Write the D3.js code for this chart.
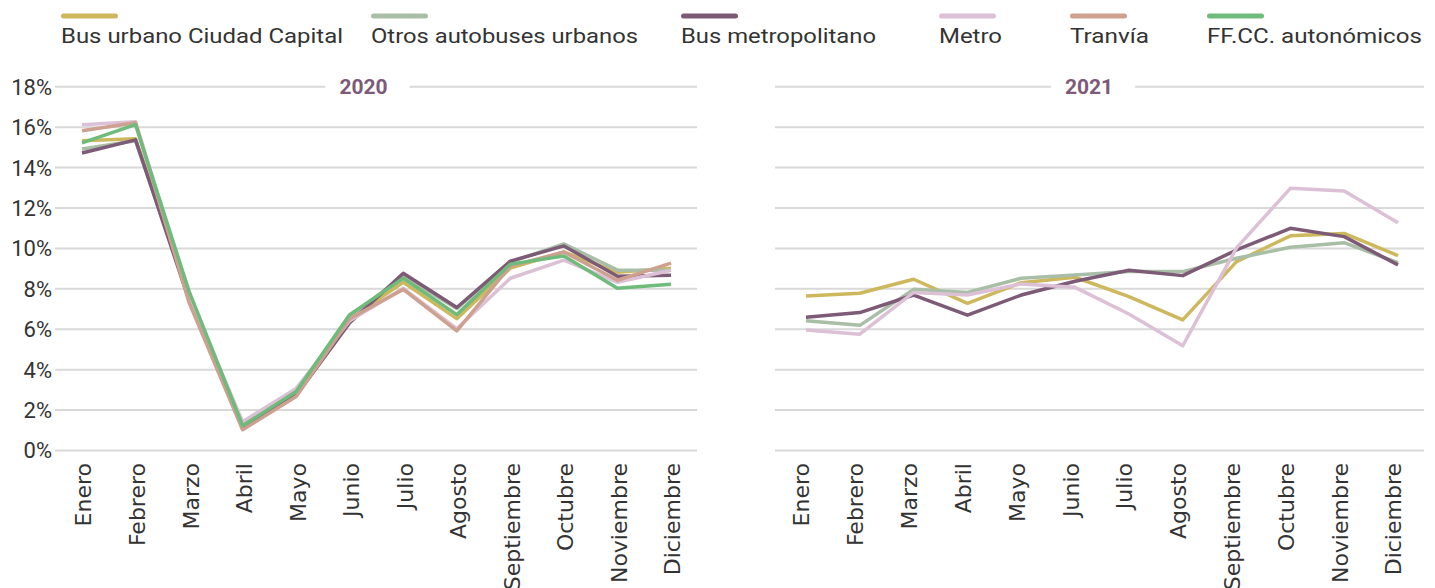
<!DOCTYPE html>
<html lang="es">
<head>
<meta charset="UTF-8">
<title>Distribución mensual de viajeros 2020-2021</title>
<style>
  body { margin: 0; background: #fff; }
  svg { display: block; }
</style>
</head>
<body>
<div id="chart"></div>
<script src="https://d3js.org/d3.v7.min.js"></script>
<script>
  // month categories
  const months = ["Enero", "Febrero", "Marzo", "Abril", "Mayo", "Junio", "Julio",
                  "Agosto", "Septiembre", "Octubre", "Noviembre", "Diciembre"];
  const years = ["2020", "2021"];
  const seriesNames = ["Bus urbano Ciudad Capital", "Otros autobuses urbanos", "Bus metropolitano",
                       "Metro", "Tranvía", "FF.CC. autonómicos"];
  const yTicks = [0, 2, 4, 6, 8, 10, 12, 14, 16, 18];

  // share of the year's trips per month (%)
  const busUrbano2020 = [15.3, 15.4, 7.6, 1.05, 2.75, 6.5, 8.3, 6.5, 9.0, 9.8, 8.8, 9.0];
  const otrosBus2020  = [14.9, 15.3, 7.7, 1.2, 2.85, 6.6, 8.6, 7.0, 9.3, 10.2, 8.9, 8.9];
  const busMetro2020  = [14.7, 15.35, 7.4, 1.1, 2.7, 6.3, 8.75, 7.05, 9.35, 10.1, 8.6, 8.65];
  const metro2020     = [16.1, 16.25, 7.6, 1.4, 3.05, 6.4, 8.0, 6.0, 8.5, 9.4, 8.3, 8.9];
  const tranvia2020   = [15.8, 16.2, 7.3, 1.0, 2.65, 6.5, 7.95, 5.9, 9.1, 9.8, 8.4, 9.25];
  const ffcc2020      = [15.2, 16.1, 7.85, 1.2, 2.9, 6.7, 8.5, 6.7, 9.2, 9.6, 8.0, 8.2];

  const busUrbano2021 = [7.62, 7.76, 8.45, 7.26, 8.28, 8.55, 7.59, 6.44, 9.32, 10.6, 10.72, 9.62];
  const otrosBus2021  = [6.4, 6.17, 7.95, 7.8, 8.5, 8.66, 8.83, 8.83, 9.49, 10.03, 10.26, 9.27];
  const busMetro2021  = [6.57, 6.8, 7.67, 6.67, 7.67, 8.35, 8.9, 8.63, 9.9, 10.97, 10.56, 9.16];
  const metro2021     = [5.94, 5.73, 7.8, 7.67, 8.22, 8.05, 6.73, 5.16, 10.0, 12.95, 12.82, 11.25];

  const colors = {
    "Bus urbano Ciudad Capital": "#cdb85e",
    "Otros autobuses urbanos": "#a9bea7",
    "Bus metropolitano": "#7d5a75",
    "Metro": "#dcc0d6",
    "Tranvía": "#cda08f",
    "FF.CC. autonómicos": "#6fbb7b"
  };

  const panels = [
    { year: years[0], series: [busUrbano2020, otrosBus2020, busMetro2020, metro2020, tranvia2020, ffcc2020] },
    { year: years[1], series: [busUrbano2021, otrosBus2021, busMetro2021, metro2021] }
  ];

  const W = 1435, H = 588;
  const svg = d3.select("#chart").append("svg")
    .attr("width", W)
    .attr("height", H);

  const tickFont = "Roboto, 'Liberation Sans', sans-serif";
  const textColor = "#333";

  // legend
  const legendX = [61, 371, 681, 939, 1070, 1207];
  const legendW = [282, 267, 195, 63, 79, 215];
  const legend = svg.append("g").attr("class", "legend");
  seriesNames.forEach((name, i) => {
    const g = legend.append("g").attr("transform", `translate(${legendX[i]},0)`);
    g.append("rect")
      .attr("x", 0).attr("y", 13.5)
      .attr("width", 57).attr("height", 5)
      .attr("rx", 2.5)
      .attr("fill", colors[name]);
    g.append("text")
      .attr("x", 0).attr("y", 43)
      .attr("font-family", tickFont)
      .attr("font-size", 21)
      .attr("fill", textColor)
      .attr("textLength", legendW[i])
      .attr("lengthAdjust", "spacingAndGlyphs")
      .text(name);
  });

  const y = d3.scaleLinear().domain([0, 18]).range([450, 86.3]);

  const layouts = [
    { gridX: [55, 697], pointX: [82, 671], labelShift: 1 },
    { gridX: [775, 1424], pointX: [806, 1398], labelShift: -5 }
  ];

  panels.forEach((panel, p) => {
    const lay = layouts[p];
    const x = d3.scalePoint().domain(months).range(lay.pointX);
    const g = svg.append("g").attr("class", "panel");

    // gridlines (axis with full-width ticks)
    const grid = g.append("g")
      .attr("transform", `translate(${lay.gridX[0]},0)`)
      .call(d3.axisLeft(y).tickValues(yTicks)
        .tickSize(-(lay.gridX[1] - lay.gridX[0]))
        .tickFormat(""));
    grid.select(".domain").remove();
    grid.selectAll(".tick line").attr("stroke", "#d9d9d9").attr("stroke-width", 2);

    // y tick labels only on first panel
    if (p === 0) {
      g.append("g")
        .attr("transform", `translate(52,0)`)
        .call(d3.axisLeft(y).tickValues(yTicks).tickSize(0).tickPadding(0).tickFormat(d => d + "%"))
        .call(a => a.select(".domain").remove())
        .call(a => a.selectAll("text")
          .attr("font-family", tickFont)
          .attr("font-size", 22)
          .attr("fill", textColor)
          .attr("dy", "0.36em"));
    }

    // month labels
    const xa = g.append("g")
      .attr("transform", `translate(${lay.labelShift},450)`)
      .call(d3.axisBottom(x).tickSize(0).tickPadding(0));
    xa.select(".domain").remove();
    xa.selectAll("text")
      .attr("font-family", "'DejaVu Sans', sans-serif")
      .attr("font-size", 22)
      .attr("fill", textColor)
      .attr("text-anchor", "end")
      .attr("transform", "translate(0,13) rotate(-90)")
      .attr("x", 0).attr("y", 0)
      .attr("dy", "0.36em");

    // year title with a gap in the top gridline
    const mid = (lay.pointX[0] + lay.pointX[1]) / 2 - 13;
    const title = g.append("text")
      .attr("x", mid).attr("y", 86)
      .attr("dy", "0.36em")
      .attr("text-anchor", "middle")
      .attr("font-family", tickFont)
      .attr("font-weight", "bold")
      .attr("font-size", 21)
      .attr("fill", "#7d5a78")
      .text(panel.year);
    const bb = title.node().getBBox();
    g.insert("rect", () => title.node())
      .attr("x", bb.x - 14).attr("y", 80)
      .attr("width", bb.width + 36).attr("height", 12)
      .attr("fill", "#fff");

    // lines
    const line = d3.line()
      .x((d, i) => x(months[i]))
      .y(d => y(d));
    panel.series.forEach((vals, s) => {
      g.append("path")
        .datum(vals)
        .attr("fill", "none")
        .attr("stroke", colors[seriesNames[s]])
        .attr("stroke-width", 3.5)
        .attr("stroke-linejoin", "round")
        .attr("d", line);
    });
  });
</script>
</body>
</html>
